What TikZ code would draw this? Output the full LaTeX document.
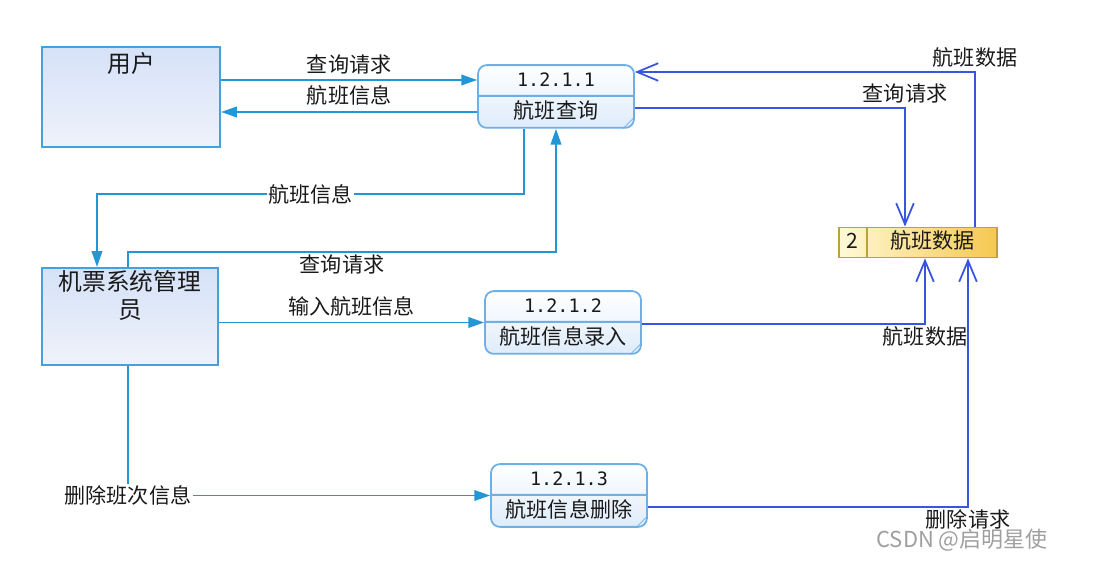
\documentclass[tikz,border=0pt]{standalone}
\usepackage{fontspec}
\setmainfont{Noto Sans CJK SC}
\newfontfamily\numfont{DejaVu Sans Mono}
\usetikzlibrary{arrows.meta, positioning, calc, shapes.multipart}
\definecolor{dfEntity}{RGB}{70,160,220}
\definecolor{dfEntTop}{RGB}{214,226,248}
\definecolor{dfEntBot}{RGB}{238,242,250}
\definecolor{dfProc}{RGB}{110,175,230}
\definecolor{dfProcBot}{RGB}{222,236,250}
\definecolor{dfStore}{RGB}{190,160,60}
\definecolor{dfStoreL}{RGB}{255,249,215}
\definecolor{dfStoreR}{RGB}{245,200,80}
\definecolor{dfFlow}{RGB}{35,150,215}
\definecolor{dfDs}{RGB}{55,85,225}
\newcommand{\pstrut}{\rule[-3pt]{0pt}{12.5pt}}

\begin{document}
\begin{tikzpicture}[x=0.02cm, y=-0.02cm, font=\fontsize{12}{14}\selectfont,
    entity/.style={draw=dfEntity, line width=1.2pt, top color=dfEntTop, bottom color=dfEntBot},
    title/.style={font=\fontsize{13.5}{15.5}\selectfont, align=center, inner sep=3.5pt, text=black!90},
    proc/.style={rectangle split, rectangle split parts=2, draw=dfProc, line width=1pt,
                 rounded corners=5pt, top color=white, bottom color=dfProcBot,
                 minimum width=3.12cm, inner ysep=2pt, inner xsep=2pt, text=black!90},
    store/.style={rectangle split, rectangle split horizontal, rectangle split parts=2,
                  draw=dfStore, line width=0.9pt, left color=dfStoreL, right color=dfStoreR,
                  inner xsep=0pt, inner ysep=2pt, text=black!90},
    flow/.style={draw=dfFlow, line width=1.1pt, -{Triangle[length=9pt, width=6pt]}},
    dsflow/.style={draw=dfDs, line width=1pt, -{Straight Barb[length=12pt, width=10pt]}},
    lbl/.style={text=black!90, inner sep=1pt}]
  \useasboundingbox (0,0) rectangle (1100,574);
  % external entities
  \node[entity, minimum width=3.56cm, minimum height=2cm,
        label={[title, anchor=north]north:用户}] (user) at (131,97) {};
  \node[entity, minimum width=3.52cm, minimum height=1.94cm,
        label={[title, anchor=north, inner sep=2pt]north:机票系统管理\\员}] (admin) at (130,316.5) {};
  % processes
  \node[proc] (p1) at (556,96.5)
    {{\numfont\fontsize{10.5}{12}\selectfont\pstrut 1.2.1.1}\nodepart{two}\pstrut 航班查询};
  \node[proc] (p2) at (563,322.5)
    {{\numfont\fontsize{10.5}{12}\selectfont\pstrut 1.2.1.2}\nodepart{two}\pstrut 航班信息录入};
  \node[proc] (p3) at (569,495.5)
    {{\numfont\fontsize{10.5}{12}\selectfont\pstrut 1.2.1.3}\nodepart{two}\pstrut 航班信息删除};
  \foreach \p in {p1,p2,p3}
    \draw[dfProc, thin] ($(\p.south east)+(-12,0)$) -- ($(\p.south east)+(0,-12)$);
  % data store
  \node[store] (store) at (918,242.5)
    {\makebox[0.54cm]{\pstrut 2}\nodepart{two}\makebox[2.58cm]{\pstrut 航班数据}};

  % user flows
  \draw[flow] ($(user.east)+(0,-17)$) -- ($(user.east -| p1.west)+(0,-17)$)
    node[lbl, midway, above=2pt] {查询请求};
  \draw[flow] ($(user.east -| p1.west)+(0,15)$) -- ($(user.east)+(0,15)$)
    node[lbl, midway, above=2pt] {航班信息};
  % admin flows
  \draw[flow] ($(p1.south)+(-32,0)$) |- node[lbl, pos=0.75, fill=white] {航班信息}
    ($(admin.north)+(-33,-73)$) -- ($(admin.north)+(-33,0)$);
  \draw[flow] ($(admin.north)+(-2,0)$) -- ($(admin.north)+(-2,-15)$)
    -| node[lbl, pos=0.25, below=0pt] {查询请求} (p1.south);
  \draw[flow] (admin.east |- p2.west) -- (p2.west)
    node[lbl, midway, above=2pt] {输入航班信息};
  \draw[flow] ($(admin.south)+(-2,0)$) |- node[lbl, fill=white] {删除班次信息} (p3.west);
  % data store flows
  \draw[dsflow] ($(p1.east)+(0,11.5)$) -| node[lbl, above=1pt] {查询请求} ($(store.north)+(-13,0)$);
  \draw[dsflow] ($(store.north)+(57,0)$) |- node[lbl, above=1pt] {航班数据} ($(p1.east)+(0,-24.5)$);
  \draw[dsflow] ($(p2.east)+(0,1.5)$) -| node[lbl, below=0pt] {航班数据} ($(store.south)+(7,0)$);
  \draw[dsflow] ($(p3.east)+(0,11.5)$) -| node[lbl, below=0pt] {删除请求} ($(store.south)+(50,0)$);

  \node[text=gray!75, font=\fontsize{12.5}{14}\selectfont, inner sep=0pt] (mark) at (962,540) {CSDN @启明星使};
\end{tikzpicture}
\end{document}
